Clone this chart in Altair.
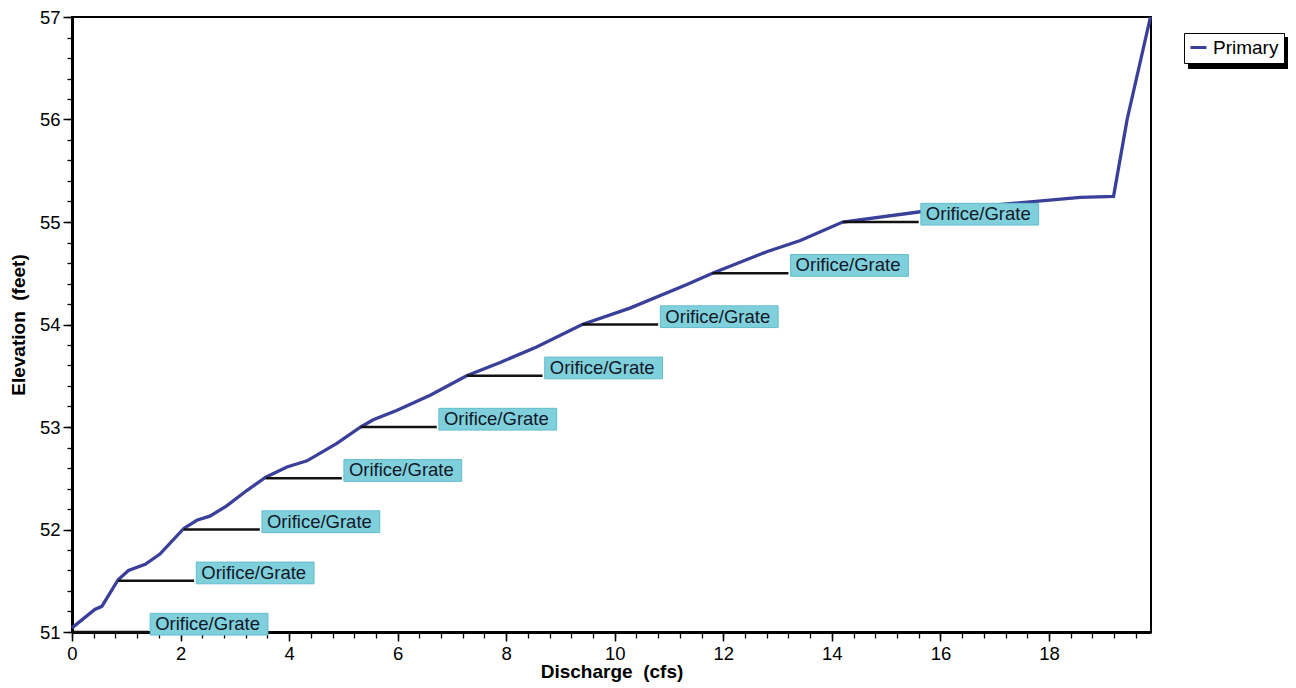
import altair as alt
import pandas as pd

# Rating curve (Primary outlet)
discharge = [0.0, 0.42, 0.55, 0.85, 1.04, 1.35, 1.62, 2.06, 2.30, 2.54, 2.85, 3.22, 3.57,
             3.96, 4.33, 4.88, 5.32, 5.55, 5.98, 6.60, 7.27, 7.89, 8.56, 9.40, 10.28,
             11.33, 11.80, 12.80, 13.42, 14.20, 15.63, 18.58, 19.19, 19.44, 19.87]
elevation = [51.04, 51.22, 51.25, 51.51, 51.60, 51.66, 51.76, 52.01, 52.09, 52.13, 52.23,
             52.38, 52.51, 52.61, 52.67, 52.84, 53.00, 53.07, 53.16, 53.31, 53.50, 53.63,
             53.78, 54.00, 54.16, 54.39, 54.50, 54.71, 54.82, 55.00, 55.10, 55.24, 55.25,
             56.00, 57.00]

# Orifice/Grate stage markers
stage_elev = [51.0, 51.5, 52.0, 52.5, 53.0, 53.5, 54.0, 54.5, 55.0]
stage_q = [0.0, 0.85, 2.06, 3.57, 5.32, 7.27, 9.40, 11.80, 14.20]
stage_label = ["Orifice/Grate"] * len(stage_elev)

x_major = [0, 2, 4, 6, 8, 10, 12, 14, 16, 18]
y_major = [51, 52, 53, 54, 55, 56, 57]
x_minor = [round(i * 0.4, 1) for i in range(50)]
y_minor = [round(51 + i * 0.2, 1) for i in range(31)]

X_MAX = 19.88
FONT = "Liberation Sans"

curve_df = pd.DataFrame({"q": discharge, "elev": elevation, "series": "Primary"})
# the shadow key gets a zero-width char so its legend is not merged with the main one
stage_df = pd.DataFrame({"q": stage_q, "elev": stage_elev, "label": stage_label,
                         "shadow": "Primary\u200b"})

xs = alt.Scale(domain=[0, X_MAX], nice=False, zero=False)
ys = alt.Scale(domain=[51, 57], nice=False, zero=False)

axis_common = dict(
    labelFont=FONT, labelFontSize=18.5, labelColor="black",
    titleFont=FONT, titleFontSize=19, titleFontWeight="bold", titleColor="black",
    domainColor="black", domainWidth=3, tickColor="black", tickWidth=1.5, tickSize=9,
    gridColor="#cfcfcf", gridDash=[8, 5], gridWidth=1, labelFlush=False, format="d",
)

x_axis = alt.Axis(values=x_major, orient="bottom", title="Discharge\u00a0 (cfs)",
                  labelPadding=3, titlePadding=0, **axis_common)
y_axis = alt.Axis(values=y_major, orient="left", title="Elevation\u00a0 (feet)",
                  labelPadding=3, titlePadding=11, **axis_common)

x_minor_axis = alt.Axis(values=x_minor, orient="bottom", labels=False, grid=False,
                        domain=False, ticks=True, tickSize=6, tickColor="black",
                        tickWidth=1.3, title=None)
y_minor_axis = alt.Axis(values=y_minor, orient="left", labels=False, grid=False,
                        domain=False, ticks=True, tickSize=5, tickColor="black",
                        tickWidth=1.3, title=None)

minor = alt.Chart(stage_df).mark_point(opacity=0).encode(
    x=alt.X("q:Q", scale=xs, axis=x_minor_axis),
    y=alt.Y("elev:Q", scale=ys, axis=y_minor_axis),
)

curve = alt.Chart(curve_df).mark_line(strokeWidth=3.3, clip=False).encode(
    x=alt.X("q:Q", scale=xs, axis=x_axis),
    y=alt.Y("elev:Q", scale=ys, axis=y_axis),
    color=alt.Color("series:N", scale=alt.Scale(domain=["Primary"], range=["#3a3f99"]),
                    legend=alt.Legend(
                        title=None, orient="none", legendX=1112, legendY=16,
                        symbolType="stroke", symbolSize=256, symbolStrokeWidth=3,
                        labelFont=FONT, labelFontSize=19, labelColor="black",
                        labelOffset=5, padding=5, fillColor="white",
                        strokeColor="black", zindex=2)),
    order=alt.Order("q:Q"),
)

stage_lines = alt.Chart(stage_df).transform_calculate(
    q_end="datum.q + 1.4"
).mark_rule(color="#111111", strokeWidth=2.5).encode(
    x=alt.X("q:Q", scale=xs, axis=x_axis),
    x2="q_end:Q",
    y=alt.Y("elev:Q", scale=ys, axis=y_axis),
)

boxes = alt.Chart(stage_df).transform_calculate(
    bx="datum.q + 1.44",
    bx2="datum.q + 3.61",
    by="datum.elev - 0.03",
    by2="datum.elev + 0.182",
).mark_rect(stroke="#62bccb", strokeWidth=1).encode(
    x=alt.X("bx:Q", scale=xs, axis=x_axis),
    x2="bx2:Q",
    y=alt.Y("by:Q", scale=ys, axis=y_axis),
    y2="by2:Q",
    fill=alt.Fill("shadow:N",
                  scale=alt.Scale(domain=["Primary\u200b"], range=["#80d0dc"]),
                  legend=alt.Legend(
                      title=None, orient="none", legendX=1116, legendY=20,
                      symbolType="square", symbolSize=256, symbolFillColor="black",
                      symbolStrokeColor="black", labelFont=FONT,
                      labelFontSize=19, labelColor="black", labelOffset=74,
                      labelExpr="'\u200b'",
                      padding=5, fillColor="black", strokeColor="black",
                      zindex=1)),
)

labels = alt.Chart(stage_df).transform_calculate(
    tx="datum.q + 1.44"
).mark_text(align="left", baseline="middle", dx=5, dy=-8, font=FONT,
            fontSize=18.5, color="#101828").encode(
    x=alt.X("tx:Q", scale=xs, axis=x_axis),
    y=alt.Y("elev:Q", scale=ys, axis=y_axis),
    text="label:N",
)

main = alt.layer(curve, stage_lines, boxes, labels)

chart = alt.layer(minor, main).resolve_axis(
    x="independent", y="independent"
).properties(
    width=1079, height=615,
    autosize=alt.AutoSizeParams(type="none"),
    padding={"left": 64, "top": 9, "right": 137, "bottom": 52},
).configure_view(
    stroke="black", strokeWidth=2
)

chart.save("out.html", embed_options={"renderer": "svg", "actions": False})
